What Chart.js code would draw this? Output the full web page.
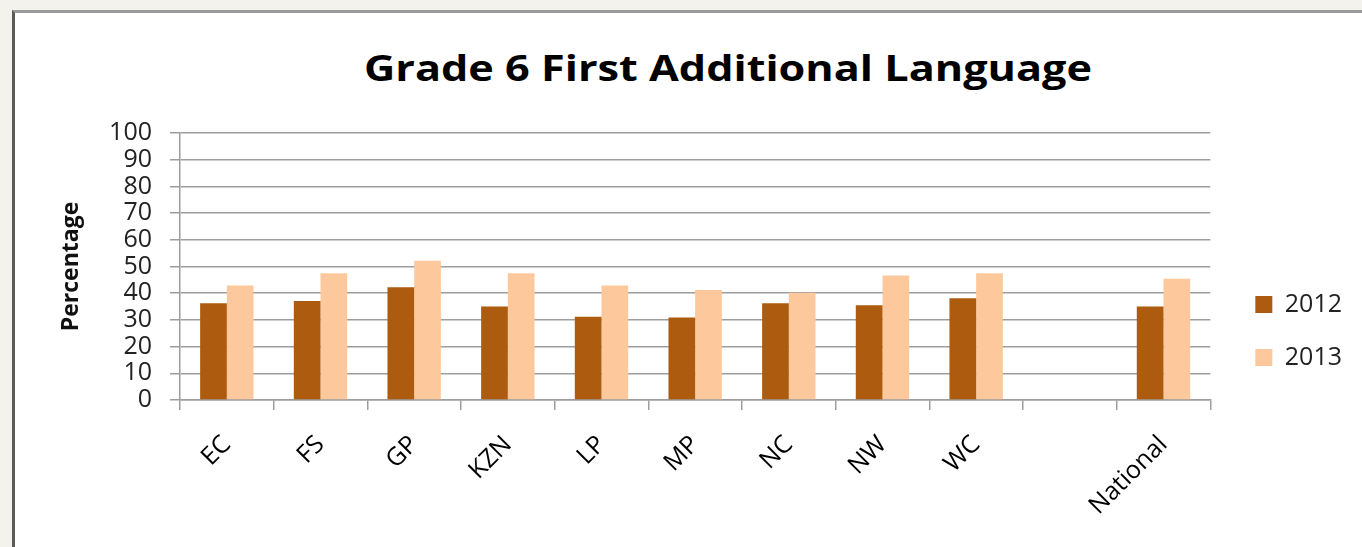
<!DOCTYPE html>
<html>
<head>
<meta charset="utf-8">
<script src="https://cdn.jsdelivr.net/npm/chart.js@4"></script>
<style>
  html, body { margin: 0; padding: 0; width: 1362px; height: 547px; overflow: hidden; background: #f4f2ed; }
  #frame { position: absolute; left: 12px; top: 10px; width: 1400px; height: 600px; background: #ffffff;
           border-left: 3px solid #5a5a5a; border-top: 3px solid #9a9a9a; }
  #title { position: absolute; left: 0; top: 46px; width: 1456px; text-align: center;
           font-family: "Open Sans", sans-serif; font-weight: 700; font-size: 36px; color: #000;
           transform: scaleX(1.2); transform-origin: 728px 0; line-height: 1.2; }
  #c { position: absolute; left: 0; top: 0; }
</style>
</head>
<body>
<div id="frame"></div>
<div id="title">Grade 6 First Additional Language</div>
<canvas id="c" width="1362" height="547"></canvas>
<script>
const categories = ["EC", "FS", "GP", "KZN", "LP", "MP", "NC", "NW", "WC", "", "National"];
const series2012 = [36.2, 37.1, 42.2, 35.0, 31.2, 30.9, 36.2, 35.5, 38.1, null, 35.0];
const series2013 = [42.9, 47.5, 52.2, 47.5, 42.9, 41.2, 40.2, 46.6, 47.5, null, 45.4];
const seriesNames = ["2012", "2013"];
const yTicks = [0, 10, 20, 30, 40, 50, 60, 70, 80, 90, 100];

const colors = ["#ad5b0f", "#fdc89c"];
const gridColor = "#9d9d9d";

new Chart(document.getElementById("c"), {
  type: "bar",
  data: {
    labels: categories,
    datasets: [
      { label: seriesNames[0], data: series2012, backgroundColor: colors[0], borderWidth: 0,
        categoryPercentage: 0.57, barPercentage: 1.0 },
      { label: seriesNames[1], data: series2013, backgroundColor: colors[1], borderWidth: 0,
        categoryPercentage: 0.57, barPercentage: 1.0 }
    ]
  },
  options: {
    responsive: false,
    animation: false,
    layout: { padding: { left: 0, top: 133, right: 10, bottom: 18 } },
    plugins: {
      title: { display: false },
      tooltip: { enabled: false },
      legend: {
        position: "right",
        align: "center",
        labels: {
          boxWidth: 17, boxHeight: 17, padding: 28, color: "#222",
          font: { family: "'Open Sans', sans-serif", size: 25 }
        }
      }
    },
    scales: {
      x: {
        grid: { offset: true, drawOnChartArea: false, drawTicks: true, tickLength: 10, color: gridColor, lineWidth: 1.5 },
        border: { display: true, color: gridColor, width: 1.5 },
        ticks: { minRotation: 45, maxRotation: 45, autoSkip: false, padding: 20, color: "#000",
                 font: { family: "'Open Sans', sans-serif", size: 25 } },
        afterFit: (s) => { s.height = 129; }
      },
      y: {
        min: 0, max: 100,
        afterBuildTicks: (s) => { s.ticks = yTicks.map(v => ({ value: v })); },
        grid: { color: gridColor, lineWidth: 1.5, tickLength: 10 },
        border: { display: true, color: gridColor, width: 1.5 },
        ticks: { autoSkip: false, padding: 18, color: "#222", font: { family: "'Open Sans', sans-serif", size: 25 } },
        title: { display: true, text: "Percentage", color: "#111", padding: { top: 58, bottom: 0 },
                 font: { family: "'Open Sans', sans-serif", size: 23, weight: "bold" } },
        afterFit: (s) => { s.width = 180; }
      },
      gap: {
        type: "linear", position: "right", display: true,
        grid: { display: false }, border: { display: false }, ticks: { display: false },
        afterFit: (s) => { s.width = 17; }
      }
    }
  }
});
</script>
</body>
</html>
